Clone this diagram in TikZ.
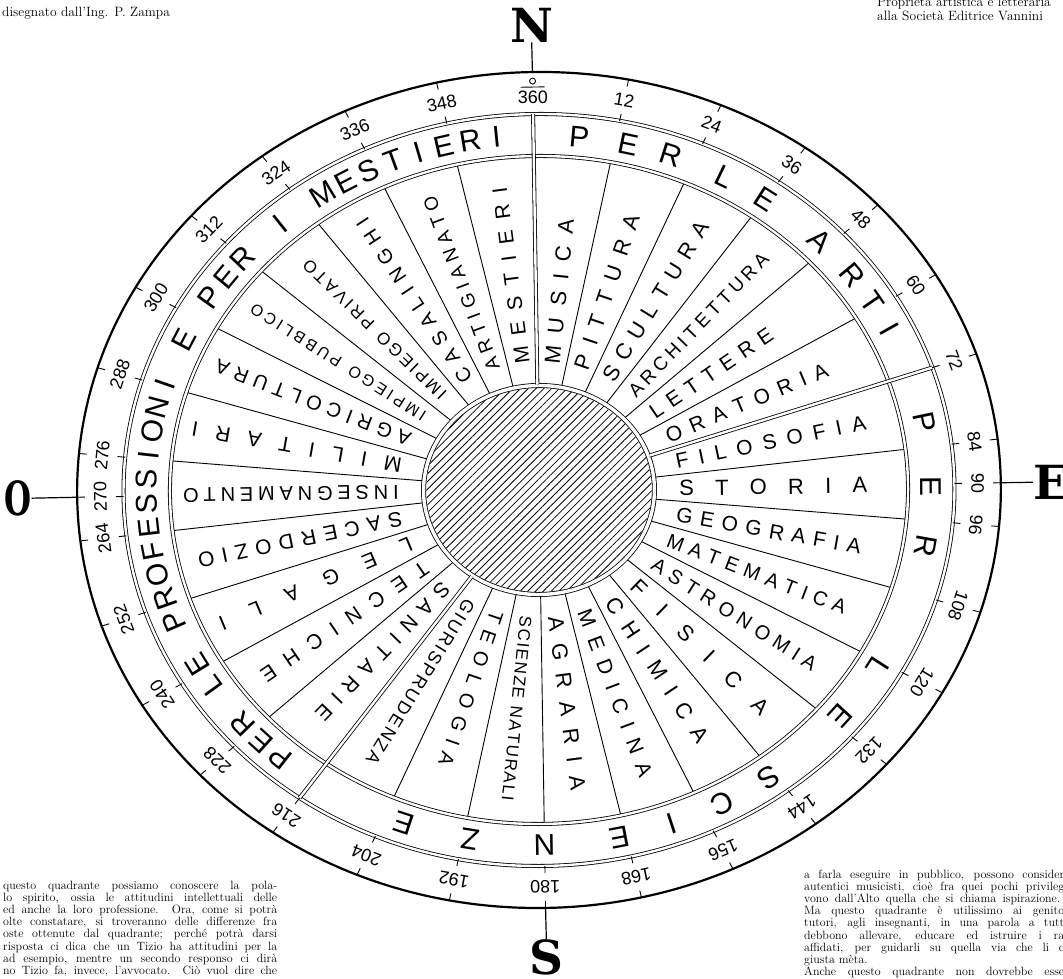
\documentclass[tikz,border=0pt]{standalone}
\usepackage{fontspec}
\setsansfont{Liberation Sans}
\newfontfamily\cardfont{DejaVu Serif}
\usetikzlibrary{decorations.text, patterns.meta}

\newcommand{\dialk}{1.105}

\tikzset{
  ring/.style={draw, line width=0.8pt, double=white, double distance=2.4pt},
  scaletick/.style={line width=0.9pt},
  scalenum/.style={font=\sffamily\fontsize{18}{18}\selectfont, inner sep=0pt},
  bandletter/.style={font=\sffamily\fontsize{30}{30}\selectfont, inner sep=0pt},
  cardinal/.style={font=\cardfont\bfseries\fontsize{47}{47}\selectfont, inner sep=0pt},
  caption/.style={font=\fontsize{13.5}{13.5}\selectfont, inner sep=0pt, anchor=base west},
  bodytext/.style={font=\fontsize{12}{12}\selectfont, inner sep=0pt, anchor=base west},
}

\begin{document}
\begin{tikzpicture}[x=1pt, y=1pt]
  \useasboundingbox (-539,-489) rectangle (524,490);
  \clip (-539,-489) rectangle (524,490);

  \begin{scope}[rotate=0.9]
    \foreach \a in {12,24,...,348}
      \draw[line width=0.9pt] ({90-\a}:{\dialk*106} and 106) -- ({90-\a}:{\dialk*333} and 333);

    \fill[pattern={Lines[angle=45, distance=5.5pt, line width=0.8pt]}]
      (0,0) ellipse [x radius={\dialk*102pt}, y radius=102pt];
    \draw[ring, double distance=3.4pt] (0,0) ellipse [x radius={\dialk*104.5pt}, y radius=104.5pt];
    \draw[ring] (0,0) ellipse [x radius={\dialk*334pt}, y radius=334pt];
    \draw[ring] (0,0) ellipse [x radius={\dialk*376pt}, y radius=376pt];
    \draw[line width=2.2pt] (0,0) ellipse [x radius={\dialk*418pt}, y radius=418pt];

    \foreach \a in {0,72,216}
      \draw[ring] ({90-\a}:{\dialk*105.5} and 105.5) -- ({90-\a}:{\dialk*376} and 376);

    % scala dei gradi
    \foreach \a in {12,24,36,48,60,72,84,90,96,108,120,132,144,156,168,180,192,204,216,228,240,252,264,270,276,288,300,312,324,336,348} {
      \pgfmathsetmacro\rot{atan2(\dialk*cos(\a), sin(\a)) - 89.1}
      \draw[scaletick] ({90-\a}:{\dialk*418} and 418) -- ({90-\a}:{\dialk*411} and 411);
      \draw[scaletick] ({90-\a}:{\dialk*376} and 376) -- ({90-\a}:{\dialk*383} and 383);
      \node[scalenum, rotate=\rot] (num\a) at ({90-\a}:{\dialk*397} and 397) {\a};
    }
    \draw[line width=0.9pt] (0,409) circle (3pt);
    \draw[line width=0.9pt] (-12,403) -- (12,403);
    \node[scalenum] (num360) at (0,393) {360};

    % fascia esterna
    \foreach \a/\ch [count=\i] in {6.7/P, 14/E, 20.5/R, 29/L, 36/E, 46.5/A, 53.8/R, 59/T, 64/I} {
      \pgfmathsetmacro\rot{atan2(\dialk*cos(\a), sin(\a)) - 89.1}
      \node[bandletter, rotate=\rot] (arti\i) at ({90-\a}:{\dialk*355} and 355) {\ch};
    }
    \foreach \a/\ch [count=\i] in {80/P, 90.5/E, 100/R, 121/L, 130.5/E, 145/S, 153/C, 161/I, 169/E, 180/N, 191/Z, 201/E} {
      \pgfmathsetmacro\rot{atan2(\dialk*cos(\a), sin(\a)) - 89.1}
      \node[bandletter, rotate=\rot] (scienze\i) at ({90-\a}:{\dialk*355} and 355) {\ch};
    }
    \foreach \ch [count=\i from 0] in {P,E,R,,L,E,,P,R,O,F,E,S,S,I,O,N,I,,E,,P,E,R,,I,,M,E,S,T,I,E,R,I} {
      \pgfmathsetmacro\a{222+3.9*\i}
      \pgfmathsetmacro\rot{atan2(\dialk*cos(\a), sin(\a)) - 89.1}
      \node[bandletter, rotate=\rot] (prof\i) at ({90-\a}:{\dialk*355} and 355) {\ch};
    }

    % settori
    \foreach \a/\txt/\fs/\rout in {
        6/MUSICA/22/272, 18/PITTURA/22/287, 30/SCULTURA/22/305, 42/ARCHITETTURA/19/311,
        54/LETTERE/21/262, 66/ORATORIA/21/287, 78/FILOSOFIA/21/303, 90/STORIA/22/297,
        102/GEOGRAFIA/21/297, 114/MATEMATICA/20/302, 126/ASTRONOMIA/20/306, 138/FISICA/22/302,
        150/CHIMICA/22/292, 162/MEDICINA/21/302, 174/AGRARIA/22/302, 186/SCIENZE NATURALI/17/312,
        198/TEOLOGIA/20/288, 210/GIURISPRUDENZA/18/312, 222/SANITARIE/21/302, 234/TECNICHE/21/312,
        246/LEGALI/21/318, 258/SACERDOZIO/21/316, 270/INSEGNAMENTO/20/322, 282/MILITARI/21/320,
        294/AGRICOLTURA/20/318, 306/IMPIEGO PUBBLICO/16/318, 318/IMPIEGO PRIVATO/17/311,
        330/CASALINGHI/20/315, 342/ARTIGIANATO/19/310, 354/MESTIERI/21/305} {
      \pgfmathsetmacro\rs{-0.36*\fs}
      \sffamily\fontsize{\fs}{\fs}\selectfont
      \path[decorate, decoration={text along path, text/.expanded=\txt, text align=fit to path, raise=\rs pt}]
        ({90-\a}:{\dialk*127} and 127) -- ({90-\a}:{\dialk*\rout} and \rout);
    }

    % punti cardinali
    \node[cardinal] (nord) at (0,465) {N};
    \node[cardinal] (sud) at (0,-467) {S};
    \node[cardinal, anchor=west] (est) at (494,0) {E};
    \node[cardinal, xscale=0.66] (ovest) at (-521,0) {O};
    \draw[line width=1.2pt] (nord.south) -- (90:{\dialk*418} and 418);
    \draw[line width=1.2pt] (-90:{\dialk*418} and 418) -- (sud.north);
    \draw[line width=1.2pt] (0:{\dialk*418} and 418) -- (est.west);
    \draw[line width=1.2pt] (ovest.east) -- (180:{\dialk*418} and 418);
  \end{scope}

  \node[caption] (autore) at (-537,473) {disegnato dall’Ing. P. Zampa};
  \node[caption] (prop1) at (338,483) {Proprietà artistica e letteraria};
  \node[caption] (prop2) at (338,469) {alla Società Editrice Vannini};

  \foreach \k/\ln in {
      0/{questo quadrante possiamo conoscere la pola-},
      1/{lo spirito, ossia le attitudini intellettuali delle},
      2/{ed anche la loro professione. Ora, come si potrà},
      3/{olte constatare, si troveranno delle differenze fra},
      4/{oste ottenute dal quadrante; perché potrà darsi},
      5/{risposta ci dica che un Tizio ha attitudini per la},
      6/{ad esempio, mentre un secondo responso ci dirà},
      7/{no Tizio fa, invece, l’avvocato. Ciò vuol dire che}}
    \node[bodytext] (sx\k) at (-536,{-399-12.2*\k}) {\makebox[274pt][s]{\ln}};

  \foreach \k/\ln in {
      0/{a farla eseguire in pubblico, possono consider},
      1/{autentici musicisti, cioè fra quei pochi privileg},
      3/{Ma questo quadrante è utilissimo ai genito},
      4/{tutori, agli insegnanti, in una parola a tutt},
      5/{debbono allevare, educare ed istruire i ra},
      6/{affidati, per guidarli su quella via che li c},
      8/{Anche questo quadrante non dovrebbe esse}}
    \node[bodytext] (dx\k) at (265,{-388-12.2*\k}) {\makebox[260pt][s]{\ln}};
  \node[bodytext] (dx2) at (265,-412.4) {\makebox[256pt][s]{vono dall’Alto quella che si chiama ispirazione.}};
  \node[bodytext] (dx7) at (265,-473.4) {giusta mèta.};
\end{tikzpicture}
\end{document}
